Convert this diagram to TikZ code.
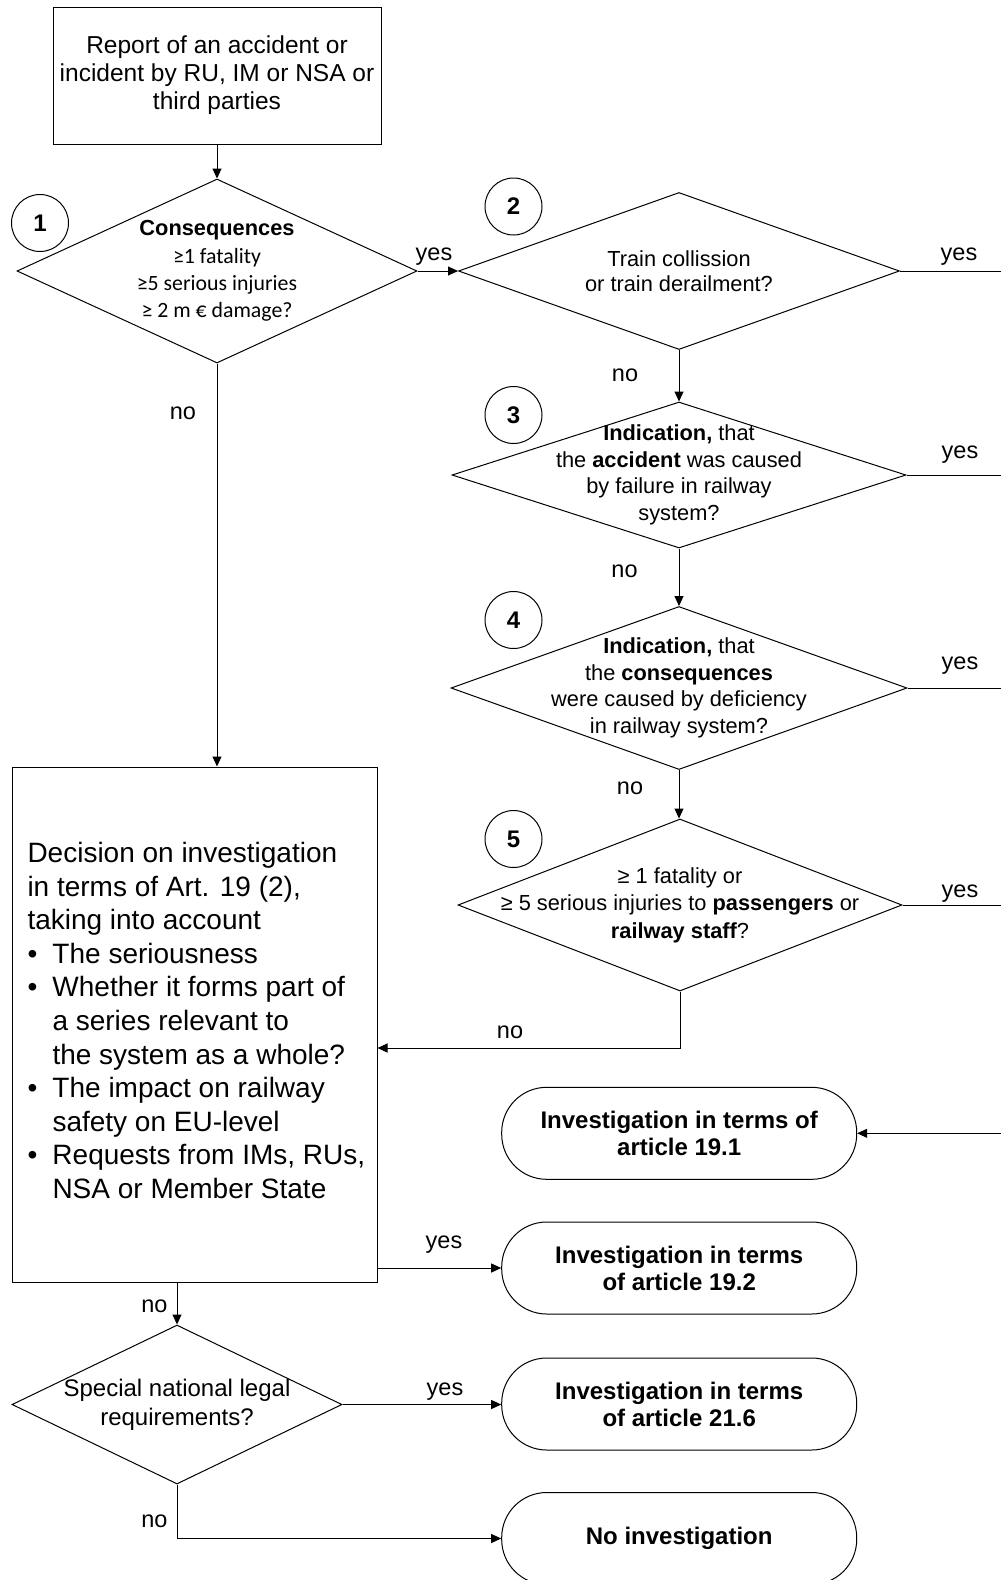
\documentclass[tikz,border=0pt]{standalone}
\usepackage{fontspec}
\setmainfont{Liberation Sans}
\newfontfamily\carlito{Carlito}
\usetikzlibrary{shapes.geometric,arrows.meta}
\newcommand\mybul{\makebox[25pt][l]{•}}
\newcommand\myind{\hspace*{25pt}}
\begin{document}
\begin{tikzpicture}[x=1pt,y=-1pt,line width=1pt,
  every node/.style={inner sep=0pt},
  rbox/.style={draw,rectangle},
  dia/.style={draw,diamond},
  dtext/.style={align=center,font=\fontsize{21.8}{26.5}\selectfont},
  term/.style={draw,rectangle,rounded corners=45pt,minimum width=355pt,minimum height=92pt,align=center,font=\fontsize{24}{27}\selectfont\bfseries},
  numc/.style={draw,circle,minimum size=57pt,font=\fontsize{24}{28}\selectfont\bfseries},
  lab/.style={font=\fontsize{23.5}{28}\selectfont,anchor=base},
  arr/.style={-{Triangle[length=10pt,width=9pt]}},
]
\fill[white] (0,0) rectangle (1001,1580);
\useasboundingbox (0,0) rectangle (1001,1580);

% top box
\node[rbox,minimum width=328pt,minimum height=137pt,align=center,font=\fontsize{24.5}{28}\selectfont] (report) at (217,75.5) {Report of an accident or\\incident by RU, IM or NSA or\\third parties};

% diamond 1
\node[dia,minimum width=400pt,minimum height=184pt] (d1) at (217,271) {};
\node[dtext,font=\fontsize{21.8}{27.3}\selectfont] (d1t) at (d1.center) {\textbf{Consequences}\\{\carlito ≥1 fatality}\\{\carlito ≥5 serious injuries}\\{\carlito ≥ 2 m € damage?}};
\node[numc] (n1) at (40,223) {1};

% diamond 2
\node[dia,minimum width=441pt,minimum height=157pt] (d2) at (679,271) {};
\node[dtext,font=\fontsize{21.8}{25}\selectfont] (d2t) at (d2.center) {Train collission\\or train derailment?};
\node[numc] (n2) at (513.5,206.5) {2};

% diamond 3
\node[dia,minimum width=454pt,minimum height=146pt] (d3) at (679,475) {};
\node[dtext] (d3t) at (d3.center) {\textbf{Indication,} that\\the \textbf{accident} was caused\\by failure in railway\\system?};
\node[numc] (n3) at (513.5,415) {3};

% diamond 4
\node[dia,minimum width=456pt,minimum height=163pt] (d4) at (679,688) {};
\node[dtext] (d4t) at (d4.center) {\textbf{Indication,} that\\the \textbf{consequences}\\were caused by deficiency\\in railway system?};
\node[numc] (n4) at (513.5,620) {4};

% diamond 5
\node[dia,minimum width=444pt,minimum height=172pt] (d5) at (680,905) {};
\node[dtext,font=\fontsize{21.8}{27.5}\selectfont] (d5t) at (d5.center) {≥ 1 fatality or\\≥ 5 serious injuries to \textbf{passengers} or\\\textbf{railway staff}?};
\node[numc] (n5) at (513.5,839) {5};

% big decision box
\node[rbox,minimum width=365pt,minimum height=515pt] (big) at (194.5,1024.5) {};
\node[anchor=north west,align=left,font=\fontsize{28}{33.6}\selectfont] (bigt) at (27,841.6) {Decision on investigation\\in terms of Art. 19 (2),\\taking into account\\\mybul The seriousness\\\mybul Whether it forms part of\\\myind a series relevant to\\\myind the system as a whole?\\\mybul The impact on railway\\\myind safety on EU-level\\\mybul Requests from IMs, RUs,\\\myind NSA or Member State};

% terminals
\node[term] (t191) at (679.2,1133.3) {Investigation in terms of\\article 19.1};
\node[term] (t192) at (679.2,1268) {Investigation in terms\\of article 19.2};
\node[term] (t216) at (679.2,1404) {Investigation in terms\\of article 21.6};
\node[term] (tno) at (679.2,1538.5) {No investigation};

% diamond 6
\node[dia,minimum width=330pt,minimum height=159pt] (d6) at (177,1404.5) {};
\node[dtext,font=\fontsize{24}{29}\selectfont] (d6t) at (d6.center) {Special national legal\\requirements?};

% connectors
\coordinate (redge) at (1001,0);
\coordinate (c5) at (680,1048);
\draw[arr] (report.south) -- (d1.north);
\draw[arr] (d1.east) -- (d2.west);
\draw (d2.east) -- (d2.east -| redge);
\draw[arr] (d2.south) -- (d3.north);
\draw (d3.east) -- (d3.east -| redge);
\draw[arr] (d3.south) -- (d4.north);
\draw (d4.east) -- (d4.east -| redge);
\draw[arr] (d4.south) -- (d4.south |- d5.north);
\draw (d5.east) -- (d5.east -| redge);
\draw[arr] (d5.south) -- (c5) -- (c5 -| big.east);
\draw[arr] (d1.south) -- (d1.south |- big.north);
\draw[arr] (t191.east -| redge) -- (t191.east);
\draw[arr] (t192.west -| big.east) -- (t192.west);
\draw[arr] (d6.north |- big.south) -- (d6.north);
\draw[arr] (d6.east) -- (d6.east -| t216.west);
\draw[arr] (d6.south) |- (tno.west);

% labels
\node[lab] (y1) at (434,260) {yes};
\node[lab] (y2) at (959,260) {yes};
\node[lab] (no2) at (625,381) {no};
\node[lab] (y3) at (960,458) {yes};
\node[lab] (no3) at (624.5,577) {no};
\node[lab] (y4) at (960,669) {yes};
\node[lab] (no4) at (630,794) {no};
\node[lab] (y5) at (960,897) {yes};
\node[lab] (no5) at (510,1038) {no};
\node[lab] (no1) at (183,419) {no};
\node[lab] (ybig) at (444,1248) {yes};
\node[lab] (nobig) at (154.5,1312) {no};
\node[lab] (y6) at (445,1395) {yes};
\node[lab] (no6) at (154.5,1527) {no};
\end{tikzpicture}
\end{document}
